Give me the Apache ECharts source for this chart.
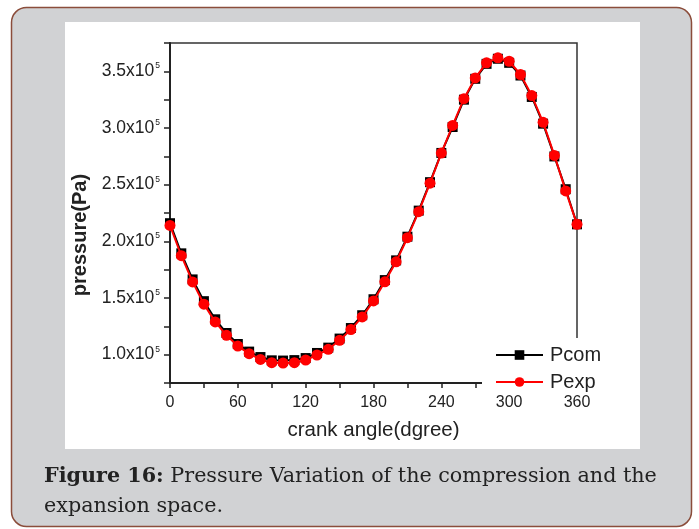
<!DOCTYPE html>
<html>
<head>
<meta charset="utf-8">
<script src="https://cdn.jsdelivr.net/npm/echarts@6/dist/echarts.min.js"></script>
<style>
html,body{margin:0;padding:0;background:#fff;}
#chart{width:699px;height:529px;}
</style>
</head>
<body>
<div id="chart"></div>
<script>
// crank angle (degree)
const angles = [0,10,20,30,40,50,60,70,80,90,100,110,120,130,140,150,160,170,180,190,200,210,220,230,240,250,260,270,280,290,300,310,320,330,340,350,360];
// Pcom (Pa)
const pcom = [216000,189400,166400,147200,131200,119100,109400,102700,97900,95000,94800,95200,97000,101500,106200,114200,123500,134800,148900,165800,183200,204100,227100,252200,278000,300900,325000,343400,356600,361100,357500,346300,327400,303800,274900,246000,215000];
// Pexp (Pa)
const pexp = [214000,187300,164200,144500,128900,117100,107600,100900,95800,92900,92600,92900,95300,99700,104700,112700,122100,133300,147400,164300,181900,203200,226200,251300,277900,302300,325900,344200,357500,361900,358900,347200,328600,305000,275800,244500,215000];
const xTickLabels = ['0','60','120','180','240','300','360'];
const yTickLabels = ['1.0','1.5','2.0','2.5','3.0','3.5'];

const chart = echarts.init(document.getElementById('chart'), null, {renderer:'canvas'});
const txt = '#222';
const option = {
  backgroundColor: '#ffffff',
  animation: false,
  graphic: {
    elements: [
      {type:'rect', z:-20, shape:{x:11.5,y:7.5,width:680,height:519,r:15}, style:{fill:'#d1d2d4', stroke:'#8b4d3b', lineWidth:1.5}},
      {type:'rect', z:-19, shape:{x:65,y:22,width:575,height:427}, style:{fill:'#ffffff'}},
      {type:'text', z:-18, left:44, top:462, style:{
        text:'{b|Figure 16:} Pressure Variation of the compression and the\nexpansion space.',
        font:'20.7px "DejaVu Serif"', fill:'#222', lineHeight:30,
        rich:{b:{fontWeight:'bold', fontFamily:'DejaVu Serif', fontSize:20.7, fill:'#222'}}
      }}
    ]
  },
  grid: {left:170, right:122, top:43, bottom:146, show:true, borderColor:'#333', borderWidth:1.5, backgroundColor:'transparent'},
  legend: {
    orient:'vertical', left:482, top:338, padding:[7,8,0,13], itemGap:7,
    backgroundColor:'#ffffff', itemWidth:47, itemHeight:12,
    textStyle:{fontFamily:'Liberation Sans', fontSize:20, color:txt, padding:[0,0,0,2]},
    data:['Pcom','Pexp']
  },
  xAxis: {
    type:'value', min:0, max:360, interval:30,
    name:'crank angle(dgree)', nameLocation:'middle', nameGap:37,
    nameTextStyle:{fontFamily:'Liberation Sans', fontSize:20.5, color:txt},
    axisLine:{show:true, lineStyle:{color:'#222', width:2}},
    axisTick:{show:true, inside:false, length:5, lineStyle:{color:'#222', width:1.5}},
    splitLine:{show:false},
    axisLabel:{fontFamily:'Liberation Sans', fontSize:16, color:txt, margin:12,
      formatter:function(v){ const s=String(v); return xTickLabels.indexOf(s)>=0 ? s : ''; }}
  },
  yAxis: {
    type:'value', min:75000, max:375000, interval:25000,
    name:'pressure(Pa)', nameLocation:'middle', nameGap:75,
    nameTextStyle:{fontFamily:'Liberation Sans', fontSize:20, fontWeight:'bold', color:txt, padding:[0,44,0,0]},
    axisLine:{show:true, lineStyle:{color:'#222', width:2}},
    axisTick:{show:true, inside:false, length:6, lineStyle:{color:'#222', width:1.5}},
    splitLine:{show:false},
    axisLabel:{fontFamily:'Liberation Sans', color:txt, margin:10,
      formatter:function(v){
        const s=(v/100000).toFixed(1);
        if (v%50000!==0 || yTickLabels.indexOf(s)<0) return '';
        return '{a|'+s+'x10}{b|5}';
      },
      rich:{a:{fontFamily:'Liberation Sans', fontSize:17.5, color:txt, lineHeight:20},
            b:{fontFamily:'Liberation Sans', fontSize:8.5, color:txt, verticalAlign:'top', lineHeight:20, padding:[0,0,10,1]}}
    }
  },
  series: [
    {name:'Pcom', type:'line', data: angles.map((a,i)=>[a,pcom[i]]),
     symbol:'rect', symbolSize:10, itemStyle:{color:'#000'}, lineStyle:{color:'#000', width:2}, z:2},
    {name:'Pexp', type:'line', data: angles.map((a,i)=>[a,pexp[i]]),
     symbol:'circle', symbolSize:11, itemStyle:{color:'#ff0000'}, lineStyle:{color:'#ff0000', width:2}, z:3}
  ]
};
chart.setOption(option);
</script>
</body>
</html>
